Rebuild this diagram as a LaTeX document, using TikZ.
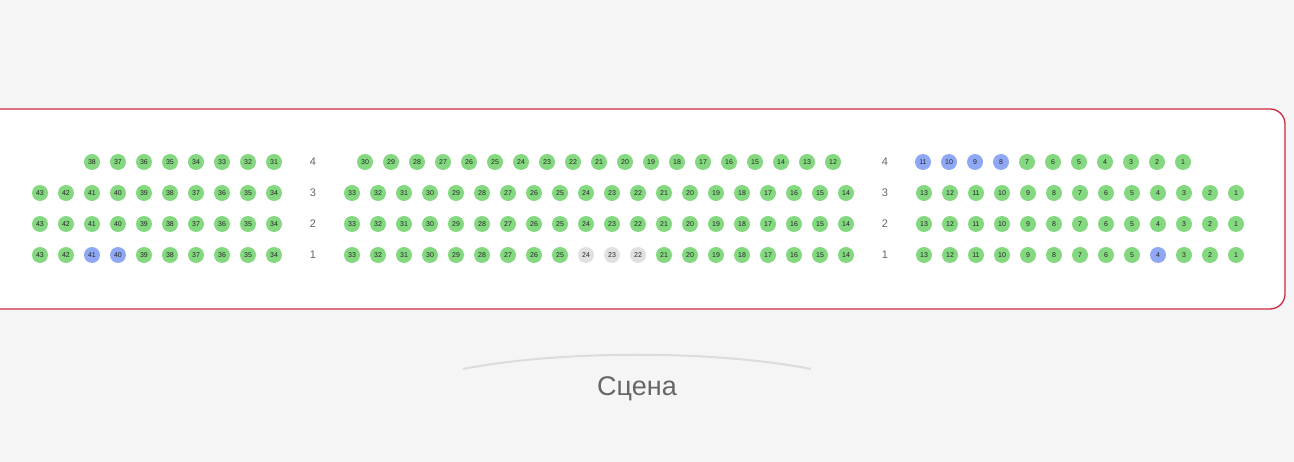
\documentclass[tikz,border=0pt]{standalone}
\usepackage{fontspec}
\setmainfont{Liberation Sans}
\definecolor{bgc}{HTML}{F5F5F5}
\definecolor{edgec}{HTML}{CC2A40}
\definecolor{freec}{HTML}{84D880}
\definecolor{heldc}{HTML}{8FA8F5}
\definecolor{offc}{HTML}{E0E0E0}
\definecolor{labelc}{HTML}{666666}
\definecolor{stagec}{HTML}{DCDCDA}
\tikzset{
	seat/.style={circle,fill=freec,minimum size=16pt,inner sep=0pt,text=black!85,font=\fontsize{7}{7}\selectfont},
	held/.style={fill=heldc},
	off/.style={fill=offc},
	rowno/.style={text=labelc,font=\fontsize{11}{11}\selectfont},
	% seats that are not free
	l1-41/.style={held}, l1-40/.style={held},
	m1-24/.style={off}, m1-23/.style={off}, m1-22/.style={off},
	r1-4/.style={held},
	r4-11/.style={held}, r4-10/.style={held}, r4-9/.style={held}, r4-8/.style={held}
}
\begin{document}
\begin{tikzpicture}[x=1pt,y=-1pt]
	\clip (0,0) rectangle (1294,462);
	\fill[bgc] (0,0) rectangle (1294,462);
	\draw[edgec,line width=1.3pt,fill=white,rounded corners=15pt] (-30,109) rectangle (1285,309);
	% rows 1 to 3
	\foreach \r/\y in {3/193,2/224,1/255} {
		\foreach \n [evaluate=\n as \x using 40+(43-\n)*26] in {43,42,...,34}
			\node[seat,l\r-\n/.try] (l\r-\n) at (\x,\y) {\n};
		\foreach \n [evaluate=\n as \x using 352+(33-\n)*26] in {33,32,...,14}
			\node[seat,m\r-\n/.try] (m\r-\n) at (\x,\y) {\n};
		\foreach \n [evaluate=\n as \x using 924+(13-\n)*26] in {13,12,...,1}
			\node[seat,r\r-\n/.try] (r\r-\n) at (\x,\y) {\n};
		\node[rowno] (ll\r) at (313,\y) {\r};
		\node[rowno] (rl\r) at (885,\y) {\r};
	}
	% row 4
	\foreach \n [evaluate=\n as \x using 92+(38-\n)*26] in {38,37,...,31}
		\node[seat,l4-\n/.try] (l4-\n) at (\x,162) {\n};
	\foreach \n [evaluate=\n as \x using 365+(30-\n)*26] in {30,29,...,12}
		\node[seat,m4-\n/.try] (m4-\n) at (\x,162) {\n};
	\foreach \n [evaluate=\n as \x using 923+(11-\n)*26] in {11,10,...,1}
		\node[seat,r4-\n/.try] (r4-\n) at (\x,162) {\n};
	\node[rowno] (ll4) at (313,162) {4};
	\node[rowno] (rl4) at (885,162) {4};
	% stage
	\draw[stagec,line width=2pt] (463,369) .. controls (560,350) and (714,350) .. (811,369);
	\node[text=labelc,font=\fontsize{27}{27}\selectfont] (stage) at (637,389) {Сцена};
\end{tikzpicture}
\end{document}
